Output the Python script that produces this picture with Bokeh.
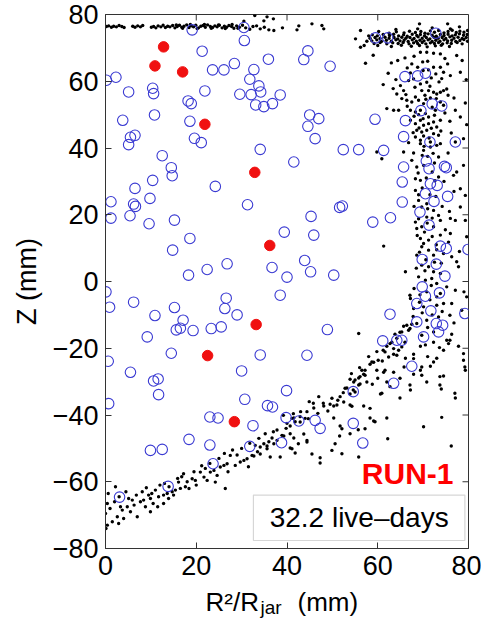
from bokeh.plotting import figure
from bokeh.layouts import column
from bokeh.models import FixedTicker, Label, BoxAnnotation, ColumnDataSource, Range1d
from bokeh.core.properties import value
from bokeh.embed import file_html
from bokeh.resources import INLINE

# ---------------- data ----------------
# red filled events
red_pts = [(12.8, 70.3), (10.9, 64.6), (17.0, 62.8), (21.9, 47.1), (32.9, 32.7),
           (36.2, 10.8), (33.2, -12.9), (22.5, -22.2), (28.4, -42.0)]

# blue open circles
blue_pts = [
    (19.1, 75.4), (30.5, 76.1), (30.6, 72.2), (21.3, 69.0), (44.6, 69.1), (43.7, 66.5), (35.9, 66.6),
    (49.5, 64.5), (28.4, 65.3), (26.1, 63.4), (23.6, 63.4), (32.7, 63.5), (31.8, 60.6), (33.8, 58.6),
    (34.2, 56.8), (29.6, 56.1), (32.1, 56.0), (38.5, 55.9), (36.8, 53.3), (33.1, 52.9), (34.9, 52.4),
    (21.9, 57.1), (18.2, 54.1), (18.9, 53.3), (18.6, 48.0), (19.6, 42.9), (21.1, 41.6),
    (0.2, 60.3), (2.3, 61.2), (5.1, 56.8), (10.4, 57.9), (10.6, 56.3), (10.8, 49.9), (3.8, 48.3),
    (5.5, 43.2), (6.5, 43.8), (5.1, 41.0), (12.5, 37.7), (14.5, 34.1), (14.7, 31.7), (10.4, 30.3),
    (6.5, 27.9), (9.8, 24.9), (1.2, 23.9), (6.2, 23.2), (6.6, 22.5), (1.2, 19.0), (5.4, 19.7),
    (9.6, 17.3), (15.2, 18.4), (18.6, 12.9), (14.8, 9.4), (18.3, 1.9), (22.4, 3.6), (26.8, 5.3),
    (24.2, 28.5), (31.3, 23.0), (34.1, 39.6), (41.5, 35.8), (39.4, 14.8), (45.9, 13.9), (45.3, 19.5),
    (40.0, 1.3), (43.9, 6.3), (45.2, 2.9), (36.7, 4.2), (50.3, 1.9), (51.6, 22.2), (44.6, 46.5),
    (45.0, 49.9), (47.0, 48.8), (46.2, 42.8), (59.4, 48.6), (65.7, 43.4), (66.1, 48.2),
    (59.5, 73.0), (62.2, 73.0), (72.8, 74.4),
    (66.0, 61.4), (68.8, 61.6), (70.5, 62.4), (69.5, 51.2), (72.0, 53.2), (74.1, 52.6),
    (52.4, 39.5), (55.8, 39.5), (61.3, 39.3), (65.7, 34.3), (65.4, 29.8), (65.4, 23.8), (52.2, 22.6),
    (58.9, 17.8), (62.8, 19.1), (70.7, 36.1), (71.3, 33.8), (74.7, 34.5), (75.1, 34.1), (71.6, 29.3),
    (73.1, 28.8), (70.5, 26.3), (72.4, 24.0), (75.4, 25.5), (69.3, 20.8), (71.3, 16.9), (73.8, 10.6),
    (75.1, 9.9), (79.9, 9.6), (69.8, 6.6), (72.9, 5.2), (74.8, 1.6), (69.8, -1.6), (70.5, -4.4),
    (73.6, -3.4), (71.5, 41.8), (77.1, 41.8),
    (68.6, -6.6), (71.7, -8.8), (72.9, -12.6), (74.3, -13.1), (73.4, -15.1), (70.1, -16.6),
    (68.6, -12.1), (65.3, -17.6), (64.2, -17.6), (61.1, -17.8), (67.5, -25.4), (63.5, -30.5),
    (79.2, -9.6), (54.6, -33.0), (54.6, -42.5), (62.7, -9.8), (48.9, -14.4), (44.4, -22.1),
    (39.9, -32.7), (38.5, -4.1), (56.7, -48.4),
    (34.1, -22.0), (29.0, -10.0), (26.3, -8.1), (26.6, -5.0), (25.5, -13.6), (23.3, -14.1),
    (19.3, -14.7), (17.1, -11.6), (16.5, -14.0), (15.6, -14.5), (15.2, -7.8), (10.9, -10.2),
    (9.2, -16.6), (6.2, -6.2), (0.9, -7.7), (0.1, -3.1), (0.6, -23.9), (5.5, -27.2), (14.5, -21.5),
    (30.0, -26.8), (10.6, -29.8), (11.6, -29.2), (11.7, -33.9), (0.7, -36.6), (30.7, -35.3),
    (23.0, -40.6), (24.8, -40.9), (32.5, -43.2), (18.4, -47.3), (23.0, -49.0), (31.8, -49.4),
    (9.9, -50.6), (12.5, -50.3), (23.7, -54.6), (13.8, -61.4), (3.1, -64.6), (35.7, -37.2),
    (36.8, -37.6), (39.8, -40.8), (42.6, -41.8), (46.2, -41.6), (47.3, -44.0), (38.8, -48.3),
]

# black background events: top-left band
top_band = [
    (0.2, 76.4), (0.7, 76.6), (1.3, 76.2), (1.8, 76.5), (2.4, 76.3), (3.0, 76.7), (3.6, 76.4), (4.1, 76.1),
    (6.0, 76.5), (6.5, 76.2), (7.1, 76.6), (7.7, 76.3), (8.2, 76.7),
    (10.1, 76.2), (10.6, 76.4), (11.1, 76.0), (11.6, 76.6), (12.2, 76.3), (12.7, 76.8), (13.2, 76.1),
    (13.7, 76.5), (14.2, 76.3), (14.8, 76.7), (15.3, 76.0), (15.8, 76.4), (16.3, 76.8), (16.8, 76.2),
    (17.3, 76.5), (17.9, 76.9), (18.4, 76.1), (18.9, 76.6), (19.4, 76.3), (19.9, 76.8), (20.5, 76.0),
    (21.0, 76.5), (21.5, 76.7), (22.0, 76.2), (22.5, 76.9), (23.1, 76.4), (23.6, 76.1), (24.1, 76.6),
    (24.6, 76.3), (25.1, 76.8), (25.7, 76.0), (26.2, 76.5), (26.7, 76.2), (27.2, 76.7), (27.8, 76.4),
    (28.3, 75.9), (28.9, 76.6), (29.5, 76.2), (30.2, 76.8), (30.9, 76.0),
    (15.6, 76.9), (17.0, 75.9), (18.7, 77.0), (20.2, 75.8), (21.8, 77.0), (23.3, 75.9), (24.9, 76.9),
    (26.4, 75.8), (27.9, 77.0), (29.2, 75.9),
    (32.9, 79.7), (34.9, 78.1), (35.6, 79.3), (37.0, 78.7), (32.5, 76.4), (34.1, 75.7), (36.0, 75.4),
    (37.1, 75.2), (39.0, 76.0), (42.2, 75.4), (42.6, 76.6), (45.5, 77.2), (47.7, 76.7), (48.1, 75.7),
    (31.8, 75.6), (30.5, 78.0), (33.3, 76.6), (35.0, 76.2),
]

# top-right dense blob
top_blob = [
    (60.2, 74.9), (62.5, 74.4), (64.1, 74.8), (65.8, 74.5), (67.0, 75.0), (68.3, 74.6), (69.5, 74.9),
    (70.4, 74.4), (71.6, 75.1), (72.5, 74.7), (73.4, 75.2), (74.6, 74.5), (75.5, 74.9), (76.4, 75.3),
    (77.3, 74.6), (78.1, 75.0), (79.0, 74.7), (79.8, 75.2),
    (58.8, 73.9), (59.9, 73.6), (61.2, 74.0), (62.6, 73.7), (63.5, 74.1), (64.6, 73.6), (65.7, 73.9),
    (66.5, 73.5), (67.6, 74.1), (68.6, 73.7), (69.4, 74.0), (70.3, 73.6), (71.1, 74.2), (72.0, 73.8),
    (72.9, 73.5), (73.8, 74.0), (74.6, 73.7), (75.5, 74.1), (76.4, 73.6), (77.1, 73.9), (78.0, 74.2),
    (78.9, 73.8), (79.7, 74.0),
    (58.3, 72.9), (59.4, 73.1), (60.5, 72.8), (61.6, 73.2), (62.5, 72.9), (63.6, 73.1), (64.4, 72.7),
    (65.3, 73.2), (66.2, 72.9), (67.1, 73.1), (68.0, 72.8), (68.9, 73.3), (69.8, 72.9), (70.7, 73.1),
    (71.5, 72.7), (72.4, 73.2), (73.3, 72.9), (74.2, 73.1), (75.0, 72.8), (75.9, 73.3), (76.8, 72.9),
    (77.7, 73.2), (78.6, 72.8), (79.5, 73.1),
    (58.7, 72.1), (59.8, 72.4), (60.8, 71.9), (61.9, 72.3), (63.0, 72.0), (64.0, 72.4), (64.9, 72.1),
    (65.8, 72.3), (66.7, 71.9), (67.6, 72.4), (68.5, 72.0), (69.3, 72.3), (70.2, 72.1), (71.1, 72.4),
    (72.0, 71.9), (72.8, 72.3), (73.7, 72.0), (74.6, 72.4), (75.4, 72.1), (76.3, 72.3), (77.2, 71.9),
    (78.1, 72.2), (79.0, 72.5), (79.8, 72.0),
    (59.2, 71.3), (60.5, 71.6), (62.0, 71.2), (63.3, 71.5), (64.5, 71.3), (65.6, 71.6), (66.9, 71.2),
    (67.9, 71.5), (68.8, 71.3), (69.8, 71.6), (70.6, 71.2), (71.6, 71.5), (72.5, 71.3), (73.4, 71.6),
    (74.3, 71.2), (75.3, 71.5), (76.2, 71.3), (77.5, 71.6), (78.6, 71.2),
    (60.0, 70.7), (63.0, 70.4), (65.2, 70.8), (67.4, 70.5), (69.2, 70.7), (70.9, 70.3), (72.7, 70.6),
    (74.0, 70.8), (75.8, 70.4),
    (55.1, 72.7), (56.2, 70.2), (57.0, 70.7), (56.2, 75.2), (57.6, 72.0), (58.0, 73.6), (69.2, 77.2),
    (68.8, 75.7), (75.4, 77.2), (76.0, 75.7), (72.0, 76.0), (64.0, 75.5), (78.0, 76.3),
]

# right vertical band
side_band = [
    (57.3, 65.4), (64.4, 66.2), (62.3, 62.4), (61.2, 59.0), (67.5, 65.2), (68.8, 64.2), (70.0, 63.2),
    (71.2, 63.4), (72.3, 64.2), (73.8, 64.2), (74.5, 62.7), (75.4, 65.2), (76.0, 61.7), (77.4, 67.7),
    (78.6, 66.2), (78.2, 62.7), (69.4, 68.7), (70.8, 68.7), (72.3, 68.4), (73.8, 68.2), (66.8, 60.2),
    (67.9, 60.7), (69.4, 59.2), (70.8, 59.7), (69.7, 57.2), (71.2, 57.2), (72.3, 56.7), (73.0, 56.2),
    (73.8, 56.7), (74.5, 57.2), (75.2, 57.7), (65.0, 58.7), (65.7, 57.2), (64.2, 56.2), (65.3, 54.8),
    (66.4, 54.3), (67.5, 53.8), (68.3, 55.3), (69.0, 54.3), (70.1, 53.3), (71.6, 55.0), (73.8, 53.8),
    (74.5, 52.8), (62.0, 51.8), (63.5, 51.3), (64.6, 51.3), (67.2, 51.3), (68.3, 50.8), (69.4, 51.3),
    (70.5, 50.3), (71.2, 49.3), (72.7, 51.3), (77.1, 51.3), (78.2, 49.3), (67.2, 48.3), (68.3, 47.3),
    (69.4, 48.3), (70.1, 46.8), (71.2, 47.3), (72.3, 47.8), (73.0, 46.3), (73.8, 48.3), (68.6, 45.3),
    (69.7, 44.8), (70.8, 45.3), (72.3, 44.3), (73.4, 43.8), (68.3, 43.3), (69.4, 42.3), (71.6, 41.8),
    (73.8, 41.3), (77.1, 41.8), (78.9, 42.8),
    (66.0, 67.0), (74.8, 66.8), (79.5, 60.5), (76.8, 55.0), (75.9, 48.0), (71.0, 66.0), (63.0, 65.5),
    (59.0, 67.8), (79.3, 53.5), (70.4, 55.8), (72.0, 52.2), (69.0, 50.0), (71.8, 45.9), (70.1, 43.6),
    (66.5, 64.0), (67.2, 62.5), (68.0, 67.5), (69.9, 65.8), (71.8, 61.0), (72.8, 62.2), (73.5, 59.8),
    (74.1, 60.8), (68.2, 58.2), (71.5, 58.5), (66.2, 56.0), (70.6, 54.6), (72.9, 54.8), (75.5, 55.8),
    (64.0, 60.5), (63.4, 57.8), (66.5, 52.5), (68.0, 49.5), (70.0, 48.8), (72.5, 49.8), (73.9, 45.1),
    (71.3, 43.0), (67.8, 44.6), (69.1, 46.0), (74.8, 50.5), (76.2, 44.5), (79.6, 47.0), (66.8, 41.6),
    (59.8, 38.8), (60.9, 36.8), (65.7, 38.8), (67.5, 36.3), (68.6, 34.3), (68.3, 30.8), (69.4, 41.3),
    (70.1, 39.3), (71.6, 40.3), (73.0, 40.8), (73.4, 37.3), (70.1, 34.8), (72.0, 32.8), (73.4, 31.3),
    (69.4, 30.3), (68.3, 27.3), (69.0, 24.3), (70.8, 23.3), (69.7, 22.3), (72.3, 21.3), (73.4, 19.8),
    (73.8, 18.3), (76.0, 18.9), (77.1, 18.3), (78.2, 22.3), (77.4, 32.8), (76.7, 31.8), (78.9, 34.8),
    (78.2, 27.8), (79.3, 25.8), (68.3, 17.8), (68.6, 15.9), (69.7, 16.4), (70.8, 19.3), (72.3, 16.4),
    (73.8, 13.9), (76.0, 14.4), (69.4, 12.9), (70.1, 11.4), (71.2, 12.4), (69.7, 10.4), (71.2, 9.4),
    (72.3, 7.9), (74.5, 8.4), (76.3, 7.4), (77.4, 5.9), (77.8, 4.4), (68.6, 7.9), (69.7, 4.9),
    (71.2, 4.4), (72.3, 2.9), (73.8, 2.4), (69.0, 1.4), (70.5, 0.4), (73.0, -0.6), (75.2, -1.6),
    (77.1, -2.6), (79.0, -3.1), (68.0, -2.1), (70.8, -3.1), (73.8, -3.6), (67.2, -5.1), (66.1, 2.9),
    (61.3, 10.6), (79.3, 18.3), (79.6, 13.4),
    (71.0, 37.5), (72.5, 35.5), (69.8, 28.0), (71.5, 26.0), (72.8, 25.5), (74.2, 22.5), (70.3, 14.8),
    (72.9, 11.0), (70.6, 6.5), (74.0, 5.5), (71.8, -1.2), (69.3, -4.0), (75.5, 38.5), (76.8, 27.0),
    (74.9, 15.5),
    (69.8, 37.8), (72.2, 38.4), (68.9, 32.5), (70.7, 31.0), (72.6, 30.2), (69.0, 26.0), (71.0, 21.8),
    (72.0, 19.0), (74.6, 30.0), (70.2, 40.5), (67.9, 38.5), (75.8, 21.0), (68.0, 22.5),
    (69.0, 18.8), (70.9, 17.5), (68.7, 13.8), (72.0, 13.5), (73.0, 9.5), (69.2, 8.8), (70.4, 3.2),
    (72.5, 5.8), (71.9, 0.9), (68.5, 4.0), (75.6, 11.8), (78.0, 9.0),
    (67.1, -4.1), (73.0, -4.6), (74.5, -6.6), (76.3, -6.6), (73.0, -7.1), (70.1, -7.6), (67.9, -8.1),
    (75.9, -10.1), (73.4, -10.6), (70.8, -11.6), (68.6, -12.6), (66.4, -13.1), (67.1, -14.1),
    (65.3, -15.1), (69.7, -16.1), (72.3, -15.1), (75.9, -17.6), (75.6, -18.6), (78.9, -21.6),
    (79.2, -25.6), (55.8, -15.6), (79.6, -4.6), (78.5, -8.6),
    (69.2, -6.2), (71.5, -5.5), (72.0, -10.0), (69.8, -9.4), (71.0, -13.8), (67.8, -10.5),
    (74.2, -9.0), (76.8, -12.4), (70.5, -19.0), (73.6, -19.8), (66.0, -18.2),
]

# bottom diagonal band and lower-right scatter
diag_band = [
    (0.4, -66.5), (0.0, -69.5), (0.4, -73.0), (0.1, -74.0), (2.2, -61.5), (3.3, -67.5), (3.7, -68.5),
    (2.6, -70.5), (4.0, -71.0), (5.1, -65.0), (5.9, -65.5), (4.8, -67.5), (7.0, -70.5), (8.1, -63.0),
    (8.4, -65.5), (7.7, -66.0), (9.5, -64.0), (9.9, -65.0), (9.9, -69.0), (11.0, -62.5), (11.7, -64.5),
    (12.8, -64.0), (13.6, -63.5), (12.8, -66.5), (13.9, -65.0), (14.7, -63.0), (15.4, -62.5),
    (16.1, -60.1), (16.5, -62.0), (17.6, -61.5), (18.4, -62.0), (19.1, -59.1), (19.8, -59.6),
    (20.9, -57.1), (21.7, -58.6), (22.4, -59.6), (23.1, -57.1), (23.9, -56.6), (24.6, -58.1),
    (24.2, -60.1), (25.3, -55.6), (26.1, -55.1), (26.4, -62.0), (26.8, -54.6), (27.5, -52.1),
    (28.6, -55.1), (29.7, -54.1), (30.5, -53.6), (31.2, -53.1), (32.3, -52.1), (33.0, -49.1),
    (34.1, -49.6), (34.9, -48.6), (35.6, -50.1), (36.3, -52.6), (37.1, -48.6), (37.8, -47.6),
    (38.9, -46.1), (38.5, -52.6),
    (1.0, -68.0), (1.5, -72.0), (2.9, -72.5), (5.5, -69.0), (6.3, -67.0), (8.8, -67.5), (10.5, -66.5),
    (11.5, -67.5), (12.0, -61.0), (14.0, -61.5), (15.0, -64.0), (16.8, -58.5), (18.0, -60.0),
    (20.0, -61.0), (22.0, -56.0), (27.0, -57.0), (29.0, -52.0), (31.5, -55.5), (33.5, -51.0),
    (36.0, -48.0), (0.6, -63.5),
    (2.0, -66.0), (3.0, -64.5), (4.5, -63.0), (6.8, -64.0), (9.0, -61.8), (10.2, -63.5), (13.0, -60.5),
    (15.9, -59.0), (17.2, -57.6), (19.5, -57.0), (21.2, -55.2), (23.0, -54.5), (25.0, -53.0),
    (26.2, -51.5), (28.0, -50.5), (30.0, -50.0), (31.8, -48.5), (33.8, -47.0), (35.2, -45.6),
    (37.0, -45.0), (39.8, -44.0), (43.0, -39.0), (46.8, -39.5), (49.0, -38.8), (51.2, -35.6),
    (52.4, -33.3), (54.2, -27.6), (56.0, -25.8), (58.0, -22.5), (59.8, -21.0), (61.0, -23.8),
    (63.8, -15.8), (47.0, -34.5), (44.9, -36.0), (60.0, -29.0), (58.8, -30.8), (65.8, -25.6),
    (71.0, -22.5),
    (45.9, -37.9), (48.1, -37.3), (50.3, -37.3), (52.5, -36.1), (53.9, -33.7), (54.7, -30.1),
    (55.8, -28.9), (56.9, -27.8), (58.3, -24.8), (59.1, -24.2), (42.9, -42.1), (41.5, -40.9),
    (40.7, -43.3), (37.8, -44.5), (39.3, -46.3), (41.5, -46.9), (43.7, -45.7), (44.4, -48.1),
    (45.5, -51.7), (40.7, -49.9), (36.7, -46.9), (35.6, -49.3), (34.1, -51.7), (32.7, -52.3),
    (50.3, -40.9), (51.7, -43.3), (53.2, -31.9), (55.0, -33.1), (56.1, -30.7), (57.6, -30.1),
    (57.2, -26.6), (60.1, -23.6), (61.2, -20.6), (62.0, -19.4), (63.1, -18.2), (64.2, -17.0),
    (64.9, -15.2), (65.7, -13.4), (66.8, -14.6), (67.5, -12.8), (63.5, -21.8), (64.6, -20.6),
    (66.1, -23.0), (67.9, -21.8), (69.4, -19.4), (61.3, -27.2), (62.0, -30.1), (63.5, -27.2),
    (64.9, -29.0), (60.6, -33.7), (56.9, -37.3), (58.3, -40.9), (62.0, -40.9), (64.9, -34.9),
    (67.2, -32.5), (69.4, -26.6), (71.6, -25.4), (73.0, -23.0), (74.5, -20.6), (72.3, -18.2),
    (75.2, -17.6), (76.3, -15.8), (77.8, -19.4), (78.9, -23.6), (79.3, -26.6), (74.5, -28.3),
    (67.9, -27.8), (70.8, -30.1), (62.2, -47.1), (70.1, -43.5), (74.1, -40.7), (76.2, -49.3),
    (77.1, -34.9), (74.0, -32.2), (55.8, -52.6), (51.6, -46.3),
    (62.7, -18.6), (63.5, -20.1), (65.3, -19.6), (61.6, -21.1), (64.2, -22.1), (62.4, -22.6),
    (58.7, -24.1), (59.8, -26.6), (61.6, -26.6), (56.5, -26.6), (56.1, -28.5), (57.2, -28.1),
    (55.0, -29.5), (53.9, -29.3), (55.8, -31.0), (52.8, -32.0), (54.6, -32.5), (51.7, -34.5),
    (49.9, -35.0), (48.0, -36.5), (45.8, -36.5), (51.0, -37.0), (44.4, -39.0), (42.9, -40.5),
    (41.1, -41.0), (40.0, -42.5), (41.8, -42.0), (44.0, -41.0), (53.9, -37.0), (58.3, -38.0),
    (59.4, -42.0), (62.7, -31.5), (60.9, -33.5), (67.1, -31.0), (69.7, -28.1), (73.7, -28.5),
    (73.7, -31.0), (72.3, -24.1), (69.7, -25.6), (67.9, -23.1), (77.0, -33.5),
    (49.5, -36.8), (54.3, -37.4), (59.1, -41.8), (57.2, -44.1), (55.7, -44.4), (53.9, -45.6),
    (52.1, -44.1), (50.6, -48.6), (49.9, -50.6), (52.1, -51.6), (47.3, -52.8), (47.3, -54.4),
    (44.4, -47.6), (42.5, -48.6), (41.1, -50.1), (41.8, -51.4), (40.7, -45.6), (41.4, -39.6),
    (44.7, -41.1), (39.2, -40.1),
]

x_ticks = [0, 20, 40, 60, 80]
y_ticks = [-80, -60, -40, -20, 0, 20, 40, 60, 80]
run_label = "RUN-1"
exposure_label = "32.2 live\u2013days"
xlabel_parts = ["R\u00b2/R", "jar", "(mm)"]

# ---------------- main figure ----------------
FONT = "Liberation Sans"
X0, X1, Y0, Y1 = 0, 80, -80, 80
p = figure(width=481, height=586, x_range=(X0, X1), y_range=(Y0, Y1),
           output_backend="svg", toolbar_location=None,
           min_border_left=105, min_border_right=13, min_border_top=14, min_border_bottom=38,
           background_fill_color="white", border_fill_color="white")
p.grid.visible = False
p.outline_line_color = "#333333"
p.outline_line_width = 1

for ax in (p.xaxis[0], p.yaxis[0]):
    ax.axis_line_color = "#333333"
    ax.major_tick_in = 6
    ax.major_tick_out = 0
    ax.minor_tick_line_color = None
    ax.major_tick_line_color = "#333333"
    ax.major_label_text_font = FONT
    ax.major_label_text_font_size = "27px"
    ax.major_label_text_color = "black"
    ax.major_label_standoff = 7

p.xaxis.ticker = FixedTicker(ticks=x_ticks)
p.yaxis.ticker = FixedTicker(ticks=y_ticks)
p.yaxis.major_label_overrides = {t: (("\u2212" + str(-t)) if t < 0 else str(t)) for t in y_ticks}
p.yaxis.axis_label = "Z (mm)"
p.yaxis.axis_label_text_font = FONT
p.yaxis.axis_label_text_font_size = "27px"
p.yaxis.axis_label_text_font_style = "normal"
p.yaxis.axis_label_text_color = "black"
p.yaxis.axis_label_standoff = 8

# mirrored inward tick marks on the top and right edges of the box
tick_dx = 6 / 4.54   # 6 px in x data units
tick_dy = 6 / 3.34   # 6 px in y data units
p.segment(x0=[X1] * len(y_ticks), y0=y_ticks, x1=[X1 - tick_dx] * len(y_ticks), y1=y_ticks,
          line_color="#333333", line_width=1)
p.segment(x0=x_ticks, y0=[Y1] * len(x_ticks), x1=x_ticks, y1=[Y1 - tick_dy] * len(x_ticks),
          line_color="#333333", line_width=1)

# background dots
bg = top_band + top_blob + side_band + diag_band
bg_src = ColumnDataSource(dict(x=[a for a, b in bg], y=[b for a, b in bg]))
p.scatter("x", "y", source=bg_src, size=3.4, color="black", line_width=0)

blue_src = ColumnDataSource(dict(x=[a for a, b in blue_pts], y=[b for a, b in blue_pts]))
p.scatter("x", "y", source=blue_src, marker="circle", size=10.5, fill_color=None,
          line_color="#3a3ad2", line_width=1.1)

red_src = ColumnDataSource(dict(x=[a for a, b in red_pts], y=[b for a, b in red_pts]))
p.scatter("x", "y", source=red_src, marker="circle", size=10.5, fill_color="#f01010",
          line_color="#f01010")

# annotations
p.add_layout(Label(x=76.7, y=-57.4, text=run_label, text_align="right", text_baseline="middle",
                   text_font=FONT, text_font_size="30px", text_font_style="bold", text_color="#ff0000"))
p.add_layout(BoxAnnotation(left=32.6, right=79.2, top=-64.0, bottom=-77.6, fill_color="white",
                           fill_alpha=1.0, line_color="#777777", line_width=1.2))
p.add_layout(Label(x=55.9, y=-70.8, text=exposure_label, text_align="center", text_baseline="middle",
                   text_font=FONT, text_font_size="28px", text_color="black"))

# ---------------- x axis label strip (R²/R_jar (mm)) ----------------
# the column aligns this strip's frame with the main frame (pixels 105..468),
# so its x range is expressed in page pixels; y runs downward from the strip top
lab = figure(width=481, height=32, x_range=Range1d(105, 468), y_range=Range1d(32, 0),
             output_backend="svg", toolbar_location=None, min_border=0,
             min_border_left=105, min_border_right=13,
             x_axis_type=None, y_axis_type=None, outline_line_color=None,
             background_fill_color="white", border_fill_color="white")
lab.grid.visible = False
lab.text(x=[205], y=[0.5], text=[xlabel_parts[0]], text_font=value(FONT), text_font_size="26px",
         text_align="left", text_baseline="top", text_color="black")
lab.text(x=[260], y=[31.5], text=[xlabel_parts[1]], text_font=value(FONT), text_font_size="19px",
         text_align="left", text_baseline="bottom", text_color="black")
lab.text(x=[297], y=[0.5], text=[xlabel_parts[2]], text_font=value(FONT), text_font_size="26px",
         text_align="left", text_baseline="top", text_color="black")

layout = column(p, lab, spacing=0)
open("out.html", "w").write(file_html(layout, INLINE))
